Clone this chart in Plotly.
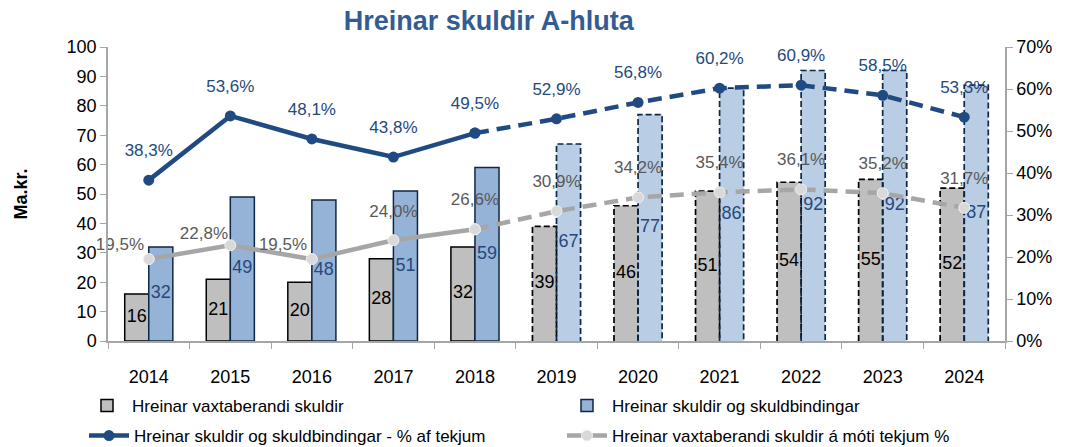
import plotly.graph_objects as go

years = ["2014", "2015", "2016", "2017", "2018", "2019", "2020", "2021", "2022", "2023", "2024"]
vaxtaberandi = [16, 21, 20, 28, 32, 39, 46, 51, 54, 55, 52]
skuldbindingar = [32, 49, 48, 51, 59, 67, 77, 86, 92, 92, 87]
pct_skuldbind = [38.3, 53.6, 48.1, 43.8, 49.5, 52.9, 56.8, 60.2, 60.9, 58.5, 53.3]
pct_vaxta = [19.5, 22.8, 19.5, 24.0, 26.6, 30.9, 34.2, 35.4, 36.1, 35.2, 31.7]
n_actual = 5  # 2014-2018 actual, later projected

FONT = "Liberation Sans, Arial"
W = 0.295
NAVY = "#1F4A82"
LBL_BLUE = "#24497D"
GRAY_LINE = "#A6A6A6"

idx = list(range(len(years)))
act = idx[:n_actual]
prj = idx[n_actual:]

def fmt(v):
    return f"{v:.1f}".replace(".", ",") + "%"

fig = go.Figure()

# Bars - actual
fig.add_trace(go.Bar(x=act, y=vaxtaberandi[:n_actual], width=W, offset=-W,
                     marker=dict(color="#BFBFBF", line=dict(color="#000000", width=1.5)),
                     name="Hreinar vaxtaberandi skuldir", legend="legend"))
fig.add_trace(go.Bar(x=act, y=skuldbindingar[:n_actual], width=W, offset=0,
                     marker=dict(color="#95B3D7", line=dict(color="#0F2747", width=1.5)),
                     name="Hreinar skuldir og skuldbindingar", legend="legend2"))
# Lines (legend entries)
fig.add_trace(go.Scatter(x=act, y=pct_skuldbind[:n_actual], yaxis="y2", mode="lines+markers",
                         line=dict(color=NAVY, width=4.5), marker=dict(size=11, color=NAVY),
                         name="Hreinar skuldir og skuldbindingar - % af tekjum", legend="legend3"))
fig.add_trace(go.Scatter(x=act, y=pct_vaxta[:n_actual], yaxis="y2", mode="lines+markers",
                         line=dict(color=GRAY_LINE, width=4.5),
                         marker=dict(size=11, color="#D9D9D9", line=dict(color="#F2F2F2", width=1)),
                         name="Hreinar vaxtaberandi skuldir á móti tekjum %", legend="legend4"))

# Bars - projected
fig.add_trace(go.Bar(x=prj, y=vaxtaberandi[n_actual:], width=W, offset=-W,
                     marker=dict(color="#BFBFBF", line=dict(width=0)), showlegend=False))
fig.add_trace(go.Bar(x=prj, y=skuldbindingar[n_actual:], width=W, offset=0,
                     marker=dict(color="#B9CDE5", line=dict(width=0)), showlegend=False))

# Dashed outlines for projected bars
def outline(values, left_off, color):
    xs, ys = [], []
    for i in prj:
        x0 = i + left_off
        x1 = x0 + W
        xs += [x0, x0, x1, x1, None]
        ys += [0, values[i], values[i], 0, None]
    return go.Scatter(x=xs, y=ys, mode="lines", line=dict(color=color, width=1.7, dash="6px,3px"),
                      showlegend=False, hoverinfo="skip")

fig.add_trace(outline(vaxtaberandi, -W, "#000000"))
fig.add_trace(outline(skuldbindingar, 0, "#0F2747"))

# Bar value labels
fig.add_trace(go.Scatter(x=[i - W / 2 for i in idx], y=[v / 2 for v in vaxtaberandi], mode="text",
                         text=[str(v) for v in vaxtaberandi], textposition="middle center",
                         textfont=dict(family=FONT, size=18, color="#000000"), showlegend=False, hoverinfo="skip"))
fig.add_trace(go.Scatter(x=[i + W / 2 for i in idx], y=[v / 2 for v in skuldbindingar], mode="text",
                         text=[str(v) for v in skuldbindingar], textposition="middle center",
                         textfont=dict(family=FONT, size=18, color=LBL_BLUE), showlegend=False, hoverinfo="skip"))

# Projected line segments
fig.add_trace(go.Scatter(x=idx[n_actual - 1:], y=pct_skuldbind[n_actual - 1:], yaxis="y2", mode="lines+markers",
                         line=dict(color=NAVY, width=4.5, dash="14px,8px"), marker=dict(size=11, color=NAVY),
                         showlegend=False))
fig.add_trace(go.Scatter(x=idx[n_actual - 1:], y=pct_vaxta[n_actual - 1:], yaxis="y2", mode="lines+markers",
                         line=dict(color=GRAY_LINE, width=4.5, dash="14px,8px"),
                         marker=dict(size=11, color="#D9D9D9", line=dict(color="#F2F2F2", width=1)),
                         showlegend=False))

# Percentage labels (invisible markers set the distance of the text from the point)
fig.add_trace(go.Scatter(x=idx, y=pct_skuldbind, yaxis="y2", mode="markers+text", cliponaxis=False,
                         marker=dict(size=30, opacity=0),
                         text=[fmt(v) for v in pct_skuldbind], textposition="top center",
                         textfont=dict(family=FONT, size=17, color=LBL_BLUE), showlegend=False, hoverinfo="skip"))
gray_pos = ["top left", "top left", "top left"] + ["top center"] * (len(idx) - 3)
gray_sz = [6, 2, 6, 28, 30] + [30] * (len(idx) - 5)
fig.add_trace(go.Scatter(x=idx, y=pct_vaxta, yaxis="y2", mode="markers+text", cliponaxis=False,
                         marker=dict(size=gray_sz, opacity=0),
                         text=[fmt(v) for v in pct_vaxta], textposition=gray_pos,
                         textfont=dict(family=FONT, size=17, color="#595959"), showlegend=False, hoverinfo="skip"))

axis_col = "#A6A6A6"
leg_common = dict(orientation="h", xref="container", yref="container", yanchor="middle",
                  xanchor="left", font=dict(family=FONT, size=17, color="#000000"),
                  itemwidth=40, bgcolor="rgba(0,0,0,0)")
fig.update_layout(
    width=1067, height=447,
    margin=dict(l=108, r=62, t=47, b=106, autoexpand=False),
    paper_bgcolor="white", plot_bgcolor="white",
    barmode="overlay",
    font=dict(family=FONT, size=17, color="#000000"),
    title=dict(text="<b>Hreinar skuldir A-hluta</b>", x=0.458, xanchor="center", xref="container",
               y=0.955, yanchor="middle", yref="container",
               font=dict(family=FONT, size=27, color="#335C94")),
    xaxis=dict(range=[-0.5, 10.5], tickvals=idx, ticktext=years, ticks="", showgrid=False,
               showline=True, linecolor=axis_col, linewidth=1.5, zeroline=False, automargin=False,
               tickfont=dict(size=18, color="#000000"), ticklabelstandoff=19,
               minor=dict(ticks="outside", tick0=-0.5, dtick=1, ticklen=6, tickcolor=axis_col, showgrid=False)),
    yaxis=dict(range=[0, 100], dtick=10, showgrid=False, zeroline=False, showline=True, automargin=False,
               linecolor=axis_col, linewidth=1.5, ticks="outside", ticklen=6, tickcolor=axis_col,
               tickfont=dict(size=18), title=dict(text="<b>Ma.kr.</b>", font=dict(size=18), standoff=34)),
    yaxis2=dict(range=[0, 70], dtick=10, ticksuffix="%", overlaying="y", side="right", showgrid=False,
                zeroline=False, showline=True, linecolor=axis_col, linewidth=1.5, ticks="outside",
                automargin=False, ticklen=6, tickcolor=axis_col, tickfont=dict(size=18)),
    legend=dict(x=82 / 1067, y=1 - 406 / 447, **leg_common),
    legend2=dict(x=562 / 1067, y=1 - 406 / 447, **leg_common),
    legend3=dict(x=84 / 1067, y=1 - 436 / 447, **leg_common),
    legend4=dict(x=562 / 1067, y=1 - 436 / 447, **leg_common),
    showlegend=True,
)

fig.write_html("out.html", config={"displayModeBar": False},
               post_script="document.body.style.margin='0';")
